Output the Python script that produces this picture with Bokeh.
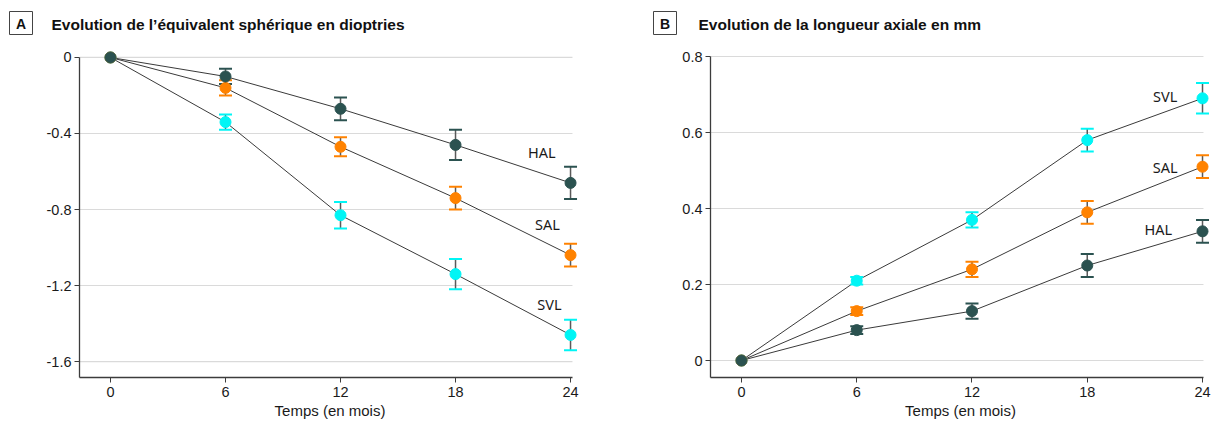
from bokeh.plotting import figure
from bokeh.layouts import row, column
from bokeh.models import Range1d, FixedTicker
from bokeh.embed import file_html
from bokeh.resources import INLINE
from bokeh.core.properties import value

# ---------------- data ----------------
months = [0, 6, 12, 18, 24]
month_labels = ["0", "6", "12", "18", "24"]
groups = ["HAL", "SAL", "SVL"]
group_colors = ["#2b5250", "#ff8200", "#00f5f5"]

# Panel A: spherical equivalent (D)
se_hal = [0, -0.10, -0.27, -0.46, -0.66]
se_hal_err = [0, 0.04, 0.06, 0.08, 0.085]
se_sal = [0, -0.16, -0.47, -0.74, -1.04]
se_sal_err = [0, 0.04, 0.05, 0.06, 0.06]
se_svl = [0, -0.34, -0.83, -1.14, -1.46]
se_svl_err = [0, 0.04, 0.07, 0.08, 0.08]
se_ticks = [0, -0.4, -0.8, -1.2, -1.6]
se_tick_labels = ["0", "-0.4", "-0.8", "-1.2", "-1.6"]

# Panel B: axial length (mm)
al_hal = [0, 0.08, 0.13, 0.25, 0.34]
al_hal_err = [0, 0.01, 0.02, 0.03, 0.03]
al_sal = [0, 0.13, 0.24, 0.39, 0.51]
al_sal_err = [0, 0.01, 0.02, 0.03, 0.03]
al_svl = [0, 0.21, 0.37, 0.58, 0.69]
al_svl_err = [0, 0.01, 0.02, 0.03, 0.04]
al_ticks = [0, 0.2, 0.4, 0.6, 0.8]
al_tick_labels = ["0", "0.2", "0.4", "0.6", "0.8"]

panel_letters = ["A", "B"]
panel_titles = ["Evolution de l\u2019\u00e9quivalent sph\u00e9rique en dioptries",
                "Evolution de la longueur axiale en mm"]
x_title = "Temps (en mois)"

AXIS = "#3c3c3c"
GRID = "#dadada"
STEM = "#5a5a5a"
HEADER_H = 45
TICK_FONT = "Liberation Sans"


def header():
    h = figure(width=1212, height=HEADER_H, x_range=Range1d(0, 1212),
               y_range=Range1d(HEADER_H, 0), x_axis_type=None, y_axis_type=None,
               output_backend="svg", toolbar_location=None,
               min_border=0, min_border_left=0, min_border_right=0,
               min_border_top=0, min_border_bottom=0)
    h.outline_line_color = None
    h.grid.visible = False
    box_x = [20.5, 664.5]
    title_x = [51, 698]
    h.rect(x=box_x, y=[22.5, 22.5], width=23, height=23, fill_color="white",
           line_color="#444444", line_width=1)
    h.text(x=box_x, y=[23.5, 23.5], text=panel_letters, text_font=value("Liberation Sans"),
           text_font_style="bold", text_font_size=value("14px"), text_color="#111111",
           text_align="center", text_baseline="middle")
    h.text(x=title_x, y=[23.5, 23.5], text=panel_titles, text_font=value("Liberation Sans"),
           text_font_style="bold", text_font_size=value("15.5px"), text_color="#111111",
           text_align="left", text_baseline="middle")
    return h


def panel(series, errs, yticks, ylabels, width, fl, fr,
          xr, yr, grid_xend, ytop, name_pos):
    fb = 332
    p = figure(width=width, height=423 - HEADER_H, x_range=Range1d(*xr), y_range=Range1d(*yr),
               output_backend="svg", toolbar_location=None,
               min_border_left=fl, min_border_right=width - fr,
               min_border_top=0, min_border_bottom=423 - HEADER_H - fb)
    p.outline_line_color = None
    p.xgrid.visible = False
    p.ygrid.visible = False

    # horizontal grid lines at y ticks
    g = p.segment(x0=[xr[0]] * len(yticks), x1=[grid_xend] * len(yticks),
                  y0=yticks, y1=yticks, line_color=GRID, line_width=1.2)
    g.level = "underlay"

    # axes
    for ax in (p.xaxis[0], p.yaxis[0]):
        ax.axis_line_color = AXIS
        ax.axis_line_width = 1.3
        ax.major_tick_line_color = AXIS
        ax.major_tick_line_width = 1
        ax.major_tick_out = 5
        ax.major_tick_in = 0
        ax.minor_tick_line_color = None
        ax.major_label_text_font = TICK_FONT
        ax.major_label_text_font_size = "14.5px"
        ax.major_label_text_color = "#1a1a1a"
        ax.major_label_standoff = 3
    p.xaxis.major_label_standoff = 4
    p.xaxis.ticker = FixedTicker(ticks=months)
    p.xaxis.major_label_overrides = {m: l for m, l in zip(months, month_labels)}
    p.yaxis.ticker = FixedTicker(ticks=yticks)
    p.yaxis.major_label_overrides = {t: l for t, l in zip(yticks, ylabels)}
    p.xaxis.bounds = (xr[0], grid_xend)
    p.yaxis.bounds = (yr[0], ytop)
    p.xaxis.axis_label = x_title
    p.xaxis.axis_label_text_font = "Liberation Sans"
    p.xaxis.axis_label_text_font_style = "normal"
    p.xaxis.axis_label_text_font_size = "15px"
    p.xaxis.axis_label_text_color = "#1a1a1a"
    p.xaxis.axis_label_standoff = 2

    # connecting lines
    for vals in series:
        p.line(months, vals, line_color="#3a3a3a", line_width=1)

    # error bars (stems, caps) then points
    for vals, err, col in zip(series, errs, group_colors):
        xs = [m for m, e in zip(months, err) if e > 0]
        up = [v + e for v, e in zip(vals, err) if e > 0]
        lo = [v - e for v, e in zip(vals, err) if e > 0]
        p.segment(x0=xs, x1=xs, y0=lo, y1=up, line_color=STEM, line_width=1.5)
        p.scatter(xs + xs, up + lo, marker="dash", size=13, line_color=col, line_width=2)
    for vals, col in zip(reversed(series), reversed(group_colors)):
        p.scatter(months, vals, size=11, fill_color=col, line_color=col)

    # group names
    p.text(x=[q[0] for q in name_pos], y=[q[1] for q in name_pos], text=groups,
           text_font=value("Noto Sans"), text_font_size=value("14.5px"),
           text_color="#1a1a1a", text_align="center", text_baseline="middle")
    return p


pa = panel([se_hal, se_sal, se_svl], [se_hal_err, se_sal_err, se_svl_err],
           se_ticks, se_tick_labels, 630, 79, 580,
           (-1.617, 24.52), (-1.684, 0.063), 24.1, 0,
           [(22.5, -0.50), (22.8, -0.874), (22.9, -1.295)])

pb = panel([al_hal, al_sal, al_svl], [al_hal_err, al_sal_err, al_svl_err],
           al_ticks, al_tick_labels, 582, 80, 580,
           (-1.613, 24.416), (-0.0447, 0.829), 24.05, 0.8,
           [(21.7, 0.345), (22.06, 0.51), (22.06, 0.695)])

layout = column(header(), row(pa, pb))
open("out.html", "w").write(file_html(layout, INLINE))
